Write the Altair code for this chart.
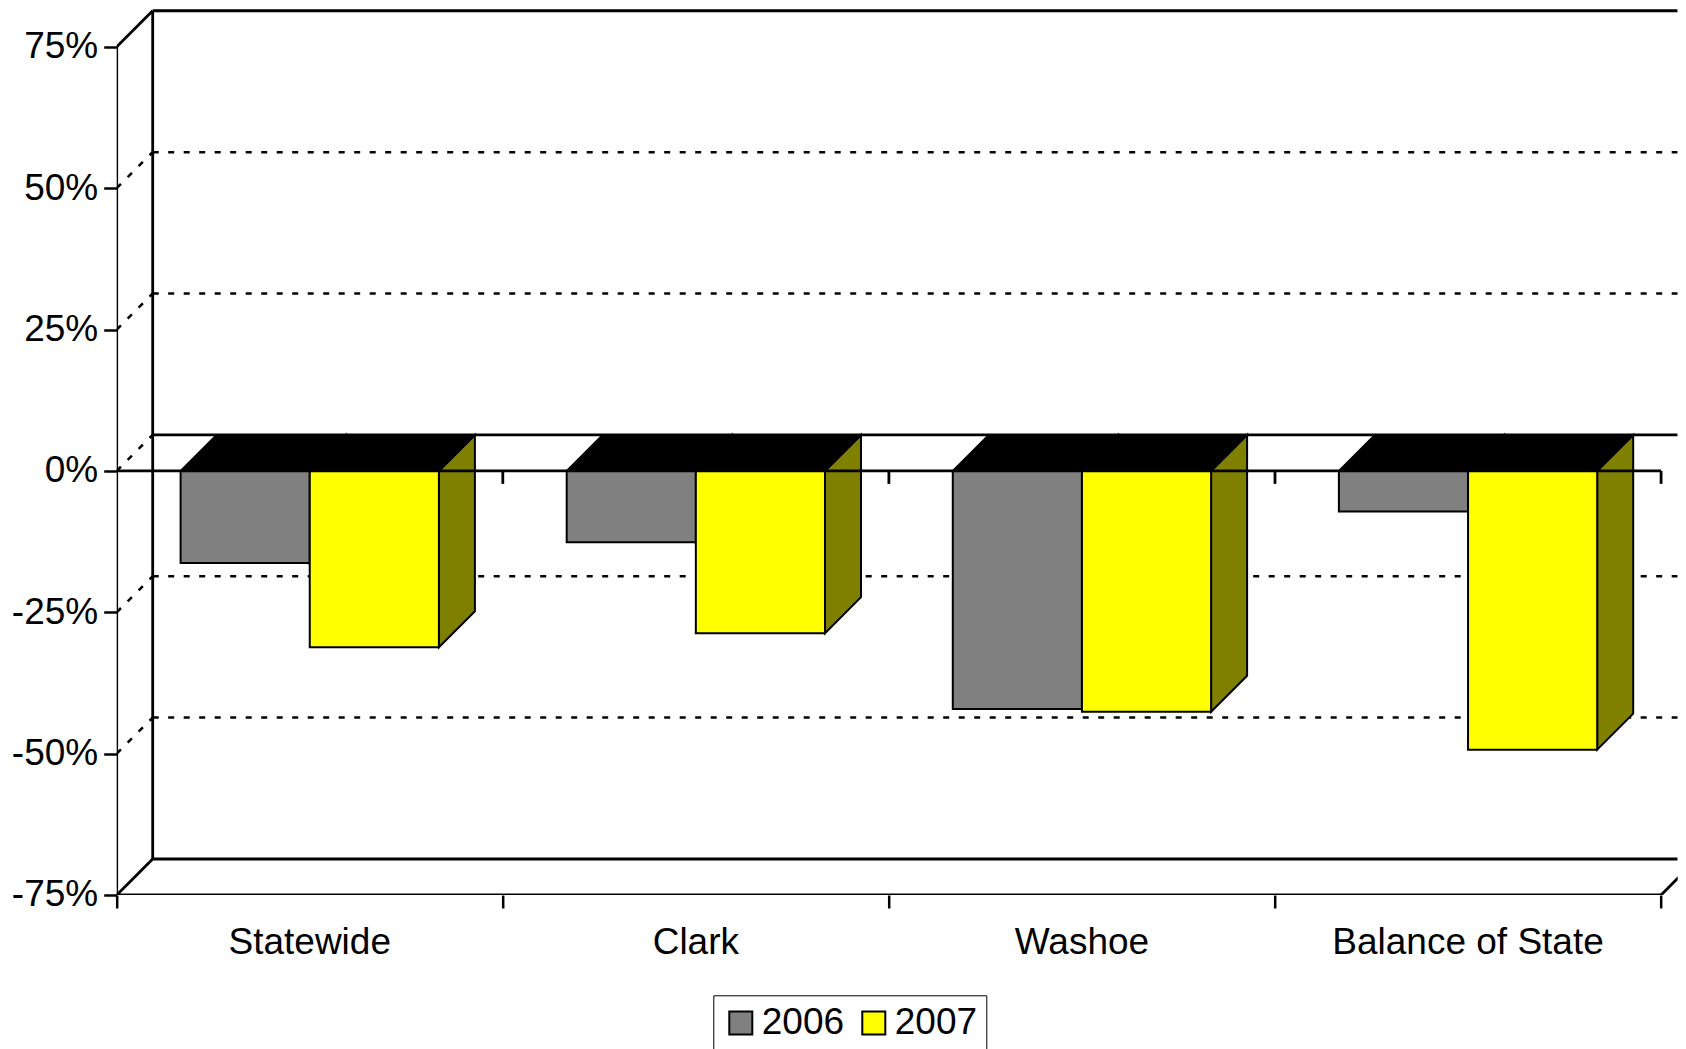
import altair as alt
import pandas as pd

# ---- data ----
categories = ["Statewide", "Clark", "Washoe", "Balance of State"]
series = ["2006", "2007"]
values_2006 = [-16.3, -12.6, -42.1, -7.2]
values_2007 = [-31.2, -28.7, -42.6, -49.3]
y_ticks = [-75, -50, -25, 0, 25, 50, 75]

# ---- style / geometry constants ----
FONT = "Liberation Sans"
FS = 37
FRONT_COLORS = ["#808080", "#FFFF00"]
SIDE_COLORS = ["#404040", "#808000"]
W, H = 1561, 887                      # plot area in px
PX_PER_BAND = 386.1                   # px per category band
PX_PER_PCT = 5.655                    # px per percentage point
Y_MIN = -75
Y_MAX = Y_MIN + H / PX_PER_PCT
X_MAX = W / PX_PER_BAND
DEPTH_PX = 36
DX = DEPTH_PX / PX_PER_BAND           # depth in x units
DY = DEPTH_PX / PX_PER_PCT            # depth in y units
GAP = 0.1655                          # empty share at each side of a band
N = len(categories)
TICK = 13 / PX_PER_PCT

xs = alt.Scale(domain=[0, X_MAX], nice=False, zero=False)
ys = alt.Scale(domain=[Y_MIN, Y_MAX], nice=False, zero=False)

x_axis = alt.Axis(values=list(range(N + 1)), labels=False, domain=False, grid=False,
                  ticks=True, tickSize=13, tickWidth=2.5, tickColor="black", title=None)
y_axis = alt.Axis(values=y_ticks, labelExpr="datum.value + '%'", domain=False, grid=False,
                  ticks=True, tickSize=13, tickWidth=2.5, tickColor="black", labelFont=FONT,
                  labelFontSize=FS, labelColor="black", labelPadding=6, title=None)

def X(f, **kw):
    return alt.X(f"{f}:Q", scale=xs, axis=x_axis, stack=None, **kw)

def Y(f, **kw):
    return alt.Y(f"{f}:Q", scale=ys, axis=y_axis, stack=None, **kw)

# front faces
fronts = []
for i, c in enumerate(categories):
    for j, (s, vals) in enumerate(zip(series, [values_2006, values_2007])):
        x0 = i + GAP + j * (0.5 - GAP)
        x1 = i + GAP + (j + 1) * (0.5 - GAP)
        fronts.append(dict(cat=c, year=s, x0=x0, x1=x1, v=vals[i], zero=0.0,
                           side=SIDE_COLORS[j]))
fronts = pd.DataFrame(fronts)

# side faces (vertical parallelograms)
sides = []
for r in fronts.itertuples():
    fid = f"{r.cat}-{r.year}"
    sides.append(dict(face=fid, col=r.side, x=r.x1, lo=r.v, hi=0.0))
    sides.append(dict(face=fid, col=r.side, x=r.x1 + DX, lo=r.v + DY, hi=DY))
sides = pd.DataFrame(sides)

# top faces (horizontal parallelograms spanning both bars of a category)
tops = []
for i, c in enumerate(categories):
    xl = i + GAP
    xr = i + 1 - GAP
    tops.append(dict(face=c, y=0.0, xa=xl, xb=xr))
    tops.append(dict(face=c, y=DY, xa=xl + DX, xb=xr + DX))
tops = pd.DataFrame(tops)

# frame lines
solid, dashed = [], []
for t in y_ticks:
    grid = dashed if t not in (Y_MIN, 0, y_ticks[-1]) else solid
    grid.append(dict(x=DX, x2=X_MAX, y=t + DY, y2=t + DY))          # back wall line
    if t in (Y_MIN, y_ticks[-1]):
        solid.append(dict(x=0, x2=DX, y=t, y2=t + DY))             # corner diagonal
    else:
        dashed.append(dict(x=0, x2=DX, y=t, y2=t + DY))
solid.append(dict(x=DX, x2=DX, y=Y_MIN + DY, y2=y_ticks[-1] + DY))   # back wall left edge
solid.append(dict(x=0, x2=0, y=Y_MIN, y2=y_ticks[-1]))               # front value axis
solid.append(dict(x=0, x2=N, y=Y_MIN, y2=Y_MIN))                     # floor front edge
solid.append(dict(x=N, x2=N + DX, y=Y_MIN, y2=Y_MIN + DY))           # floor right diagonal
solid = pd.DataFrame(solid)
dashed = pd.DataFrame(dashed)

zero_line = pd.DataFrame([dict(x=0, x2=N, y=0.0, y2=0.0)] +
                         [dict(x=k, x2=k, y=0.0, y2=-TICK) for k in range(1, N + 1)])

labels = pd.DataFrame(dict(cat=categories, x=[i + 0.5 for i in range(N)], y=[Y_MIN] * N))

dashed_layer = alt.Chart(dashed).mark_rule(
    color="black", strokeWidth=2.5, strokeDash=[6, 9.5], clip=True
).encode(x=X("x"), x2="x2", y=Y("y"), y2="y2")

solid_layer = alt.Chart(solid).mark_rule(
    color="black", strokeWidth=2.8, clip=True
).encode(x=X("x"), x2="x2", y=Y("y"), y2="y2")

side_layer = alt.Chart(sides).mark_area(
    stroke="black", strokeWidth=2, interpolate="linear"
).encode(
    x=X("x"), y=Y("lo"), y2="hi",
    fill=alt.Fill("col:N", scale=None),
    detail="face:N",
)

top_layer = alt.Chart(tops).mark_area(
    orient="horizontal", color="black", stroke="black", strokeWidth=2, interpolate="linear"
).encode(
    y=Y("y"), x=X("xa"), x2="xb", detail="face:N",
)

front_layer = alt.Chart(fronts).mark_rect(stroke="black", strokeWidth=2).encode(
    x=X("x0"), x2="x1", y=Y("v"), y2="zero",
    fill=alt.Fill("year:N", scale=alt.Scale(domain=series, range=FRONT_COLORS),
                  legend=alt.Legend(orient="none", legendX=596.6, legendY=987.3,
                                    direction="horizontal", title=None, symbolType="square",
                                    symbolSize=529, symbolStrokeColor="black",
                                    symbolStrokeWidth=2,
                                    labelFont=FONT, labelFontSize=FS, labelColor="black",
                                    labelOffset=2.5, columnPadding=11, padding=9,
                                    strokeColor="black", fillColor="white")),
)

zero_layer = alt.Chart(zero_line).mark_rule(color="black", strokeWidth=2.8).encode(
    x=X("x"), x2="x2", y=Y("y"), y2="y2")

label_layer = alt.Chart(labels).mark_text(
    font=FONT, fontSize=FS, color="black", baseline="middle", dy=48
).encode(x=X("x"), y=Y("y"), text="cat:N")

chart = alt.layer(
    dashed_layer, solid_layer, side_layer, top_layer, front_layer, zero_layer, label_layer
).properties(
    width=W, height=H,
    autosize=alt.AutoSizeParams(type="none"),
    padding={"left": 108.7, "top": 0, "right": 0, "bottom": 154},
    background="white",
).configure_view(stroke=None)

chart.save("out.html", embed_options={"renderer": "svg", "actions": False})
